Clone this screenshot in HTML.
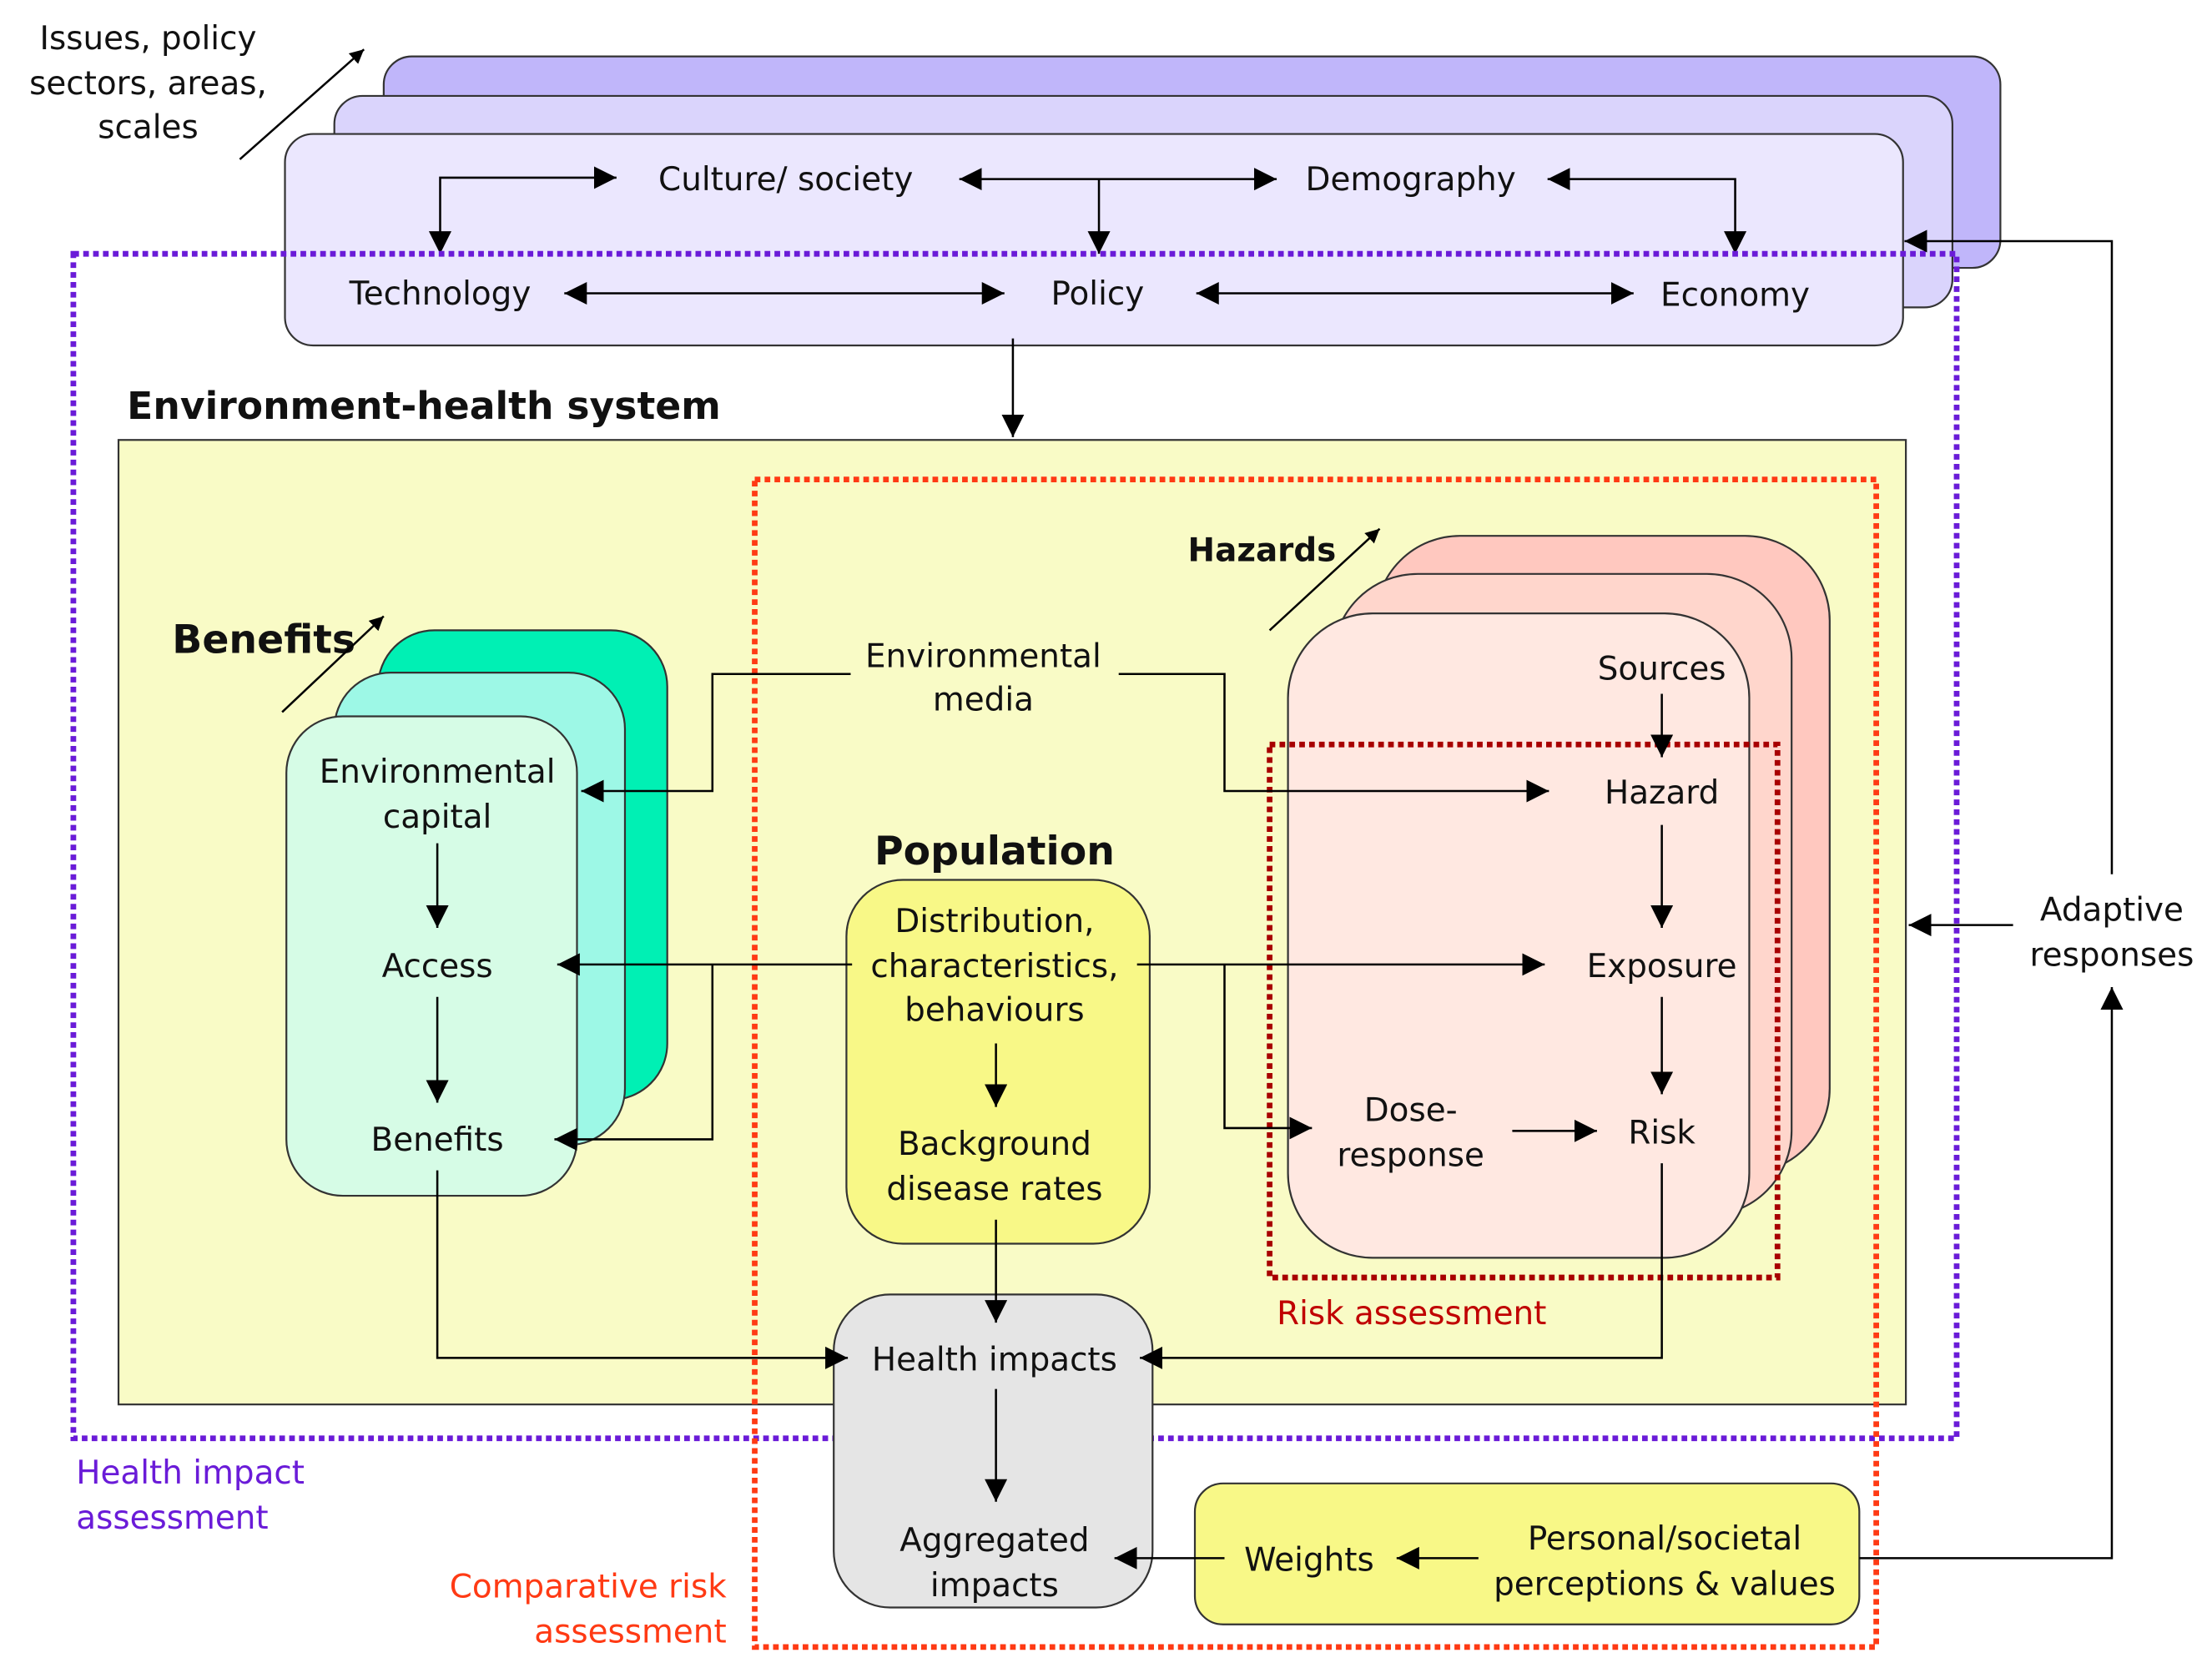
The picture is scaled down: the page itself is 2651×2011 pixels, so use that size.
<!DOCTYPE html>
<html><head><meta charset="utf-8"><style>
html,body{margin:0;padding:0;background:#fff;}
svg{display:block;}
text{font-family:"DejaVu Sans","Liberation Sans",sans-serif;font-size:23px;fill:#111;}
.c{text-anchor:middle;}
.b{font-weight:bold;}
</style></head><body>
<svg width="2651" height="2011" viewBox="0 0 1568 1190" preserveAspectRatio="none" xmlns="http://www.w3.org/2000/svg">
<defs>
<marker id="a" viewBox="0 0 10 10" refX="10" refY="5" markerWidth="10" markerHeight="10" markerUnits="userSpaceOnUse" orient="auto-start-reverse"><path d="M0,0L10,5L0,10z" fill="#000"/></marker>
<marker id="b" viewBox="0 0 10 10" refX="10" refY="5" markerWidth="16" markerHeight="16" markerUnits="userSpaceOnUse" orient="auto-start-reverse"><path d="M0,0L10,5L0,10z" fill="#000"/></marker>
</defs>
<g stroke="#333" stroke-width="1.3">
<rect x="272" y="40" width="1146" height="150" rx="20" fill="#c0b6fa"/>
<rect x="237" y="68" width="1147" height="150" rx="20" fill="#dad4fc"/>
<rect x="202" y="95" width="1147" height="150" rx="20" fill="#ebe7fe"/>
</g>
<text class="c" x="557" y="135">Culture/ society</text>
<text class="c" x="1000" y="135">Demography</text>
<text class="c" x="312" y="216">Technology</text>
<text class="c" x="778" y="216">Policy</text>
<text class="c" x="1230" y="217">Economy</text>
<g stroke="#000" stroke-width="1.5" fill="none">
<polyline points="312,180 312,126 437,126" marker-start="url(#b)" marker-end="url(#b)"/>
<line x1="680" y1="127" x2="905" y2="127" marker-start="url(#b)" marker-end="url(#b)"/>
<line x1="779" y1="127" x2="779" y2="180" marker-end="url(#b)"/>
<polyline points="1097,127 1230,127 1230,180" marker-start="url(#b)" marker-end="url(#b)"/>
<line x1="400" y1="208" x2="712" y2="208" marker-start="url(#b)" marker-end="url(#b)"/>
<line x1="848" y1="208" x2="1158" y2="208" marker-start="url(#b)" marker-end="url(#b)"/>
<line x1="718" y1="240" x2="718" y2="310" marker-end="url(#b)"/>
<line x1="170" y1="113" x2="258" y2="35" marker-end="url(#a)"/>
</g>
<text class="c" x="105" y="35">Issues,  policy</text>
<text class="c" x="105" y="67">sectors, areas,</text>
<text class="c" x="105" y="98">scales</text>
<rect x="52" y="180" width="1335" height="840" fill="none" stroke="#6a1bd8" stroke-width="4" stroke-dasharray="4 3"/>
<text class="b" x="90" y="297" style="font-size:27px">Environment-health system</text>
<rect x="84" y="312" width="1267" height="684" fill="#f9fbc6" stroke="#333" stroke-width="1.3"/>
<rect x="535" y="340" width="795" height="828" fill="none" stroke="#ff3a14" stroke-width="4" stroke-dasharray="4 3"/>
<g stroke="#333" stroke-width="1.3">
<rect x="268" y="447" width="205" height="333" rx="40" fill="#00f0b4"/>
<rect x="237" y="477" width="206" height="335" rx="40" fill="#9df8e6"/>
<rect x="203" y="508" width="206" height="340" rx="40" fill="#d6fce6"/>
<rect x="975" y="380" width="322" height="452" rx="60" fill="#ffc8bf"/>
<rect x="945" y="407" width="325" height="455" rx="60" fill="#ffd6cc"/>
<rect x="913" y="435" width="327" height="457" rx="60" fill="#ffe8e1"/>
<rect x="600" y="624" width="215" height="258" rx="40" fill="#f8f887"/>
<rect x="591" y="918" width="226" height="222" rx="40" fill="#e5e5e5"/>
<rect x="847" y="1052" width="471" height="100" rx="20" fill="#f8f887"/>
</g>
<rect x="900" y="528" width="360" height="378" fill="none" stroke="#a80000" stroke-width="4" stroke-dasharray="4 3"/>
<text class="b" x="122" y="463" style="font-size:28px">Benefits</text>
<text class="b" x="842" y="398">Hazards</text>
<text class="c b" x="705" y="613" style="font-size:28px">Population</text>
<text class="c" x="310" y="555">Environmental</text>
<text class="c" x="310" y="587">capital</text>
<text class="c" x="310" y="693">Access</text>
<text class="c" x="310" y="816">Benefits</text>
<text class="c" x="697" y="473">Environmental</text>
<text class="c" x="697" y="504">media</text>
<text class="c" x="705" y="661">Distribution,</text>
<text class="c" x="705" y="693">characteristics,</text>
<text class="c" x="705" y="724">behaviours</text>
<text class="c" x="705" y="819">Background</text>
<text class="c" x="705" y="851">disease rates</text>
<text class="c" x="1178" y="482">Sources</text>
<text class="c" x="1178" y="570">Hazard</text>
<text class="c" x="1178" y="693">Exposure</text>
<text class="c" x="1000" y="795">Dose-</text>
<text class="c" x="1000" y="827">response</text>
<text class="c" x="1178" y="811">Risk</text>
<text class="c" x="705" y="972">Health impacts</text>
<text class="c" x="705" y="1100">Aggregated</text>
<text class="c" x="705" y="1132">impacts</text>
<text class="c" x="928" y="1114">Weights</text>
<text class="c" x="1180" y="1099">Personal/societal</text>
<text class="c" x="1180" y="1131">perceptions &amp; values</text>
<text x="905" y="939" style="fill:#c00000">Risk assessment</text>
<text x="54" y="1052" style="fill:#6a1bd8">Health impact</text>
<text x="54" y="1084" style="fill:#6a1bd8">assessment</text>
<text x="515" y="1133" text-anchor="end" style="fill:#ff3a14">Comparative risk</text>
<text x="515" y="1165" text-anchor="end" style="fill:#ff3a14">assessment</text>
<text class="c" x="1497" y="653">Adaptive</text>
<text class="c" x="1497" y="685">responses</text>
<g stroke="#000" stroke-width="1.5" fill="none">
<line x1="200" y1="505" x2="272" y2="437" marker-end="url(#a)"/>
<line x1="900" y1="447" x2="978" y2="375" marker-end="url(#a)"/>
<polyline points="603,478 505,478 505,561 412,561" marker-end="url(#b)"/>
<polyline points="793,478 868,478 868,561 1098,561" marker-end="url(#b)"/>
<line x1="604" y1="684" x2="395" y2="684" marker-end="url(#b)"/>
<polyline points="505,684 505,808 393,808" marker-end="url(#b)"/>
<line x1="806" y1="684" x2="1095" y2="684" marker-end="url(#b)"/>
<polyline points="868,684 868,800 930,800" marker-end="url(#b)"/>
<line x1="1178" y1="492" x2="1178" y2="537" marker-end="url(#b)"/>
<line x1="1178" y1="585" x2="1178" y2="658" marker-end="url(#b)"/>
<line x1="1178" y1="707" x2="1178" y2="776" marker-end="url(#b)"/>
<line x1="1072" y1="802" x2="1132" y2="802" marker-end="url(#b)"/>
<line x1="310" y1="598" x2="310" y2="658" marker-end="url(#b)"/>
<line x1="310" y1="707" x2="310" y2="782" marker-end="url(#b)"/>
<line x1="706" y1="740" x2="706" y2="785" marker-end="url(#b)"/>
<line x1="706" y1="865" x2="706" y2="938" marker-end="url(#b)"/>
<polyline points="310,830 310,963 601,963" marker-end="url(#b)"/>
<polyline points="1178,825 1178,963 808,963" marker-end="url(#b)"/>
<line x1="706" y1="985" x2="706" y2="1065" marker-end="url(#b)"/>
<line x1="868" y1="1105" x2="790" y2="1105" marker-end="url(#b)"/>
<line x1="1048" y1="1105" x2="990" y2="1105" marker-end="url(#b)"/>
<polyline points="1318,1105 1497,1105 1497,700" marker-end="url(#b)"/>
<line x1="1427" y1="656" x2="1353" y2="656" marker-end="url(#b)"/>
<polyline points="1497,620 1497,171 1350,171" marker-end="url(#b)"/>
</g>
</svg>
</body></html>
